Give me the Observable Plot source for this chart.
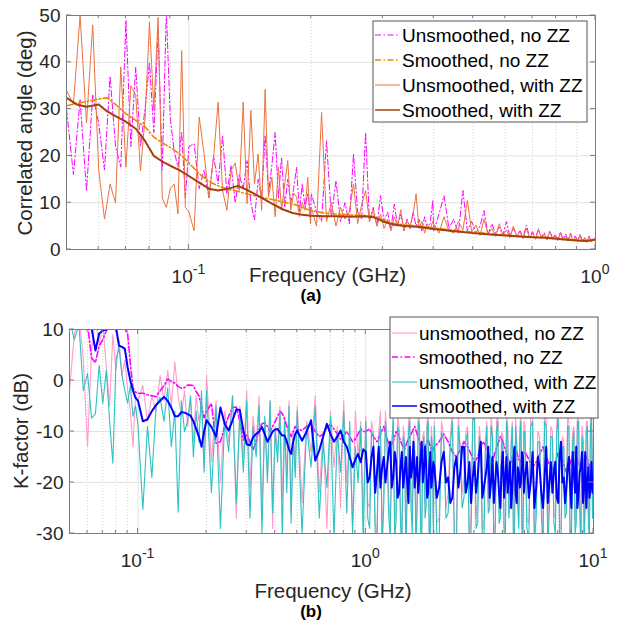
<!DOCTYPE html>
<html><head><meta charset="utf-8">
<script src="https://cdn.jsdelivr.net/npm/d3@7"></script>
<script src="https://cdn.jsdelivr.net/npm/@observablehq/plot@0.6"></script>
<style>
html,body{margin:0;padding:0;background:#fff;}
#chart{width:624px;height:622px;overflow:hidden;}
#chart svg{display:block;}
</style></head><body><div id="chart"></div>
<script>
// ---------- Panel (a): correlated angle ----------
const freqA_MHz = [
 50,52,54,56,58,60,62,64,66,68,70,72,74,76,78,80,82,84,86,88,90,92,94,96,98,
 100,103,106,109,112,115,118,121,124,127,130,133,136,139,142,145,148,151,154,157,160,163,166,169,172,175,178,181,184,187,190,193,196,199,
 200,206,212,218,224,230,236,242,248,254,260,266,272,278,284,290,296,302,308,314,320,326,332,338,344,350,356,362,368,374,380,386,392,398,
 400,412,424,436,448,460,472,484,496,508,520,532,544,556,568,580,592,604,616,628,640,652,664,676,688,700,712,724,736,748,760,772,784,796,808,820,832,844,856,868,880,892,904,916,928,940,952,964,976,988,1000
];
const unsmoothedNoZZ_A = [
 30,16,32,12.5,33,27,17,37,22,17.6,49,22,39,22,30,40,25,47,17,51,28,21,17.6,25,11,
 22,22.6,13,17,11,20,14,24.3,12,18,10,16,13,19,10,6.3,15,11,24.4,12,18,25,11,19.7,9,15,10,13,17.6,8,14,9,12,7,
 12,8,6,23.3,7,14.7,6,10,5.5,20.4,8,6.5,25,6,9,5,11.5,6,8,4.5,9.7,5,7.5,4,6.5,4.5,8,5,6.5,4,7,4.5,5.5,10.5,
 4,7.5,11.5,4.5,6.5,3.5,12.6,4,6,3.5,5,8.3,3.2,5.5,3.4,4.8,3,6,2.8,4.5,3.2,4,2.6,5.2,2.7,3.8,2.5,4.4,2.6,3.6,2.3,4,2.4,3.2,2.2,3.8,2.2,3.3,2,3.5,2,2.9,1.9,3.2,1.8,2.6,1.8,2.9,1.7,2.4,2.2
];
const unsmoothedWithZZ_A = [
 34,31,50,27,48,17,6.5,14,10,39,17.6,35,33,16.8,28,48.6,30,49.6,11,9,13,14,7.6,42.5,9,
 8,4,28.3,20.4,11.2,19.7,31.5,12.6,8.4,16.9,18.5,12.6,31.5,9.8,29.7,14,20.4,8.4,34.2,11.2,15.4,7,17.6,8.4,14,19,8.4,12,11.2,7,10,8.4,15.4,5.5,
 9,5,29.3,6,10,5,9,6.5,8,14,5.5,9.5,12.6,6,8.5,5,7.5,4.5,6.5,4,7,5,8.5,4,6,5,7.5,11.9,4.5,6,3.5,5.5,4.2,6,
 5.5,3.5,7,4,3.5,6,4.2,10.5,3.8,5.2,3,6.5,3.2,4.5,2.8,5.5,3,4.2,2.5,5,2.8,3.8,2.3,4.6,2.5,3.5,2.2,4.2,2.4,3.3,2,3.8,2.2,3,1.9,3.5,2,2.8,1.8,3.2,1.9,2.6,1.7,3,1.6,2.4,1.5,2.8,1.6,2.2,2.6
];
const smoothFreqA_MHz = [50,53,56,60,63,66,70,74,78,82,86,90,95,100,106,112,118,125,132,140,150,160,170,180,190,200,215,230,250,270,285,300,320,340,370,400,450,500,550,600,650,700,750,800,850,900,950,1000];
const smoothedNoZZ_A = [30.7,31.2,31.6,32.2,32.4,31,29,27.6,26.2,24,22.8,21.8,20.4,18.5,16.2,14.5,13.6,12.9,12.4,11.8,11.2,10.7,10.2,9.7,9,8.3,7.8,7.6,7.4,7.3,7.1,6.3,5.6,5.2,5,4.6,4.1,3.7,3.4,3.1,2.9,2.7,2.6,2.4,2.2,2,1.9,2.2];
const smoothedWithZZ_A = [32.4,31,30.5,31,29.5,28.5,27.3,25.8,23.2,20,18.8,17.9,16.9,15.7,14.3,13,12.6,13,13.6,12.6,11.2,9.8,8.6,7.8,7.4,7.2,7.1,7.1,7,7.1,6.9,6,5.3,5,4.8,4.4,3.9,3.5,3.2,3,2.8,2.6,2.5,2.3,2.1,1.9,1.8,2.1];
const yTicksA = [0,10,20,30,40,50];
const labelsA = ["Unsmoothed, no ZZ","Smoothed, no ZZ","Unsmoothed, with ZZ","Smoothed, with ZZ"];

// ---------- Panel (b): K-factor ----------
const freqB_MHz = [
 50,52.5,55,57.5,60,62.5,65,67.5,70,72.5,75,77.5,80,82.5,85,87.5,90,92.5,95,97.5,
 100,105,110,115,120,125,130,135,140,145,150,155,160,165,170,175,180,185,190,195,
 200,210,220,230,240,250,260,270,280,290,300,310,320,330,340,350,360,370,380,390,400,410,420,430,440,450,460,470,480,490,
 500,525,550,575,600,625,650,675,700,725,750,775,800,825,850,875,900,925,950,975,
 1000,1040,1080,1120,1160,1200,1240,1280,1320,1360,1400,1440,1480,1520,1560,1600,1640,1680,1720,1760,1800,1840,1880,1920,1960,
 2000,2100,2200,2300,2400,2500,2600,2700,2800,2900,3000,3100,3200,3300,3400,3500,3600,3700,3800,3900,4000,4100,4200,4300,4400,4500,4600,4700,4800,4900,
 5000,5200,5400,5600,5800,6000,6200,6400,6600,6800,7000,7200,7400,7600,7800,8000,8200,8400,8600,8800,9000,9200,9400,9600,9800,10000
];
const unsmoothedNoZZ_B = [
 -2,9,13,4,-13,6,12,7,11,3,-5,9,2,8,1,4,-2,-6,-13,-3,
 -4,-1,-8,-3,-6,1,-4,2,-5,3.6,-3,-7,-2,-9,-4,-12,-3,-8,-5,-17,
 1,-16,-4,-20,-6,-12,-3,-27,-5,-15,-2,-21,-7,-13,-3,-25,-8,-18,-4,-29,-9,-14,-5,-23,-7,-19,-4,-26,-10,-16,
 -5,-24,-8,-14,-3,-22,-10,-29,-6,-17,-9,-25,-4,-20,-11,-28,-6,-15,-8,-26,
 -7,-25,-10,-30,-6,-21,-12,-28,-8,-23,-9,-31,-11,-19,-7,-27,-13,-22,-8,-29,-10,-20,-6,-28,-12,
 -8,-27,-11,-22,-6,-30,-13,-19,-9,-26,-5,-24,-12,-29,-8,-21,-10,-28,-7,-23,-11,-31,-9,-20,-8,-27,-12,-25,-6,-29,
 -9,-28,-6,-23,-11,-30,-8,-21,-10,-27,-5,-29,-12,-22,-8,-28,-9,-24,-6,-31,-11,-20,-8,-27,-5,-9
];
const smoothedNoZZ_B = [
 15,14,14,13,11,4.4,3.5,6.8,8,9.7,10.5,11,11.5,12,11,10,9.2,3.3,-1.5,-2.3,
 -2.5,-2.5,-2.8,-3,-3.2,-2,-1,0.3,-0.2,-0.5,-1.2,-1.5,-1.4,-0.9,-0.9,-1,-2.2,-3,-5.1,-7.3,
 -6,-4.5,-12.3,-12,-9.1,-7,-5.3,-5.2,-8,-11.7,-10.5,-12,-13.6,-12,-9.5,-8.5,-8.3,-9,-10,-9,-8,-7,-6,-6.5,-7.5,-9,-10,-11,-10,-9,
 -9.5,-9.8,-9,-8.5,-10,-11,-10.5,-9.2,-8.6,-9.5,-10.5,-11.5,-10.8,-10,-11,-12,-11.5,-10.5,-9.5,-10,
 -10,-9.5,-11,-12,-10.5,-9,-11.5,-13,-12,-10,-11,-12.5,-13.5,-12,-11,-10,-9,-10.5,-12,-13,-14,-12.5,-11.5,-13,-14,
 -13,-12,-10.5,-12,-14,-15,-13.5,-12,-13,-14.5,-16,-15,-13,-12,-13.5,-15,-16,-14,-12.5,-11,-12,-13.5,-15,-16.5,-15,-13,-14,-15.5,-16,-14.5,
 -14,-15.5,-17,-16,-14.5,-13,-15,-16.5,-17.5,-16,-14,-15,-16.5,-18,-17,-15.5,-14,-15,-16,-17.5,-16,-14.5,-15.5,-17,-16,-15
];
const unsmoothedWithZZ_B = [
 12,8,11,-2,1.4,-7.4,-6.5,3,-4.5,2,-8,-16.2,4,6.5,1,-2,-4.4,-1,-7,-5,
 -9,-25.3,-9,-19,-5,-3.3,-8,-1.5,-13,-6,-25.8,-4,-10,-8,-3,-15,-6,-12,-2,-18,
 -2,-22,-5,-29,-8,-14,-3,-24,-6,-18,-4,-27,-9,-15,-5,-30,-7,-20,-4,-26,-10,-16,-6,-31,-8,-22,-5,-28,-11,-19,
 -6,-30,-9,-17,-5,-27,-12,-21,-7,-31,-10,-18,-6,-26,-8,-30,-13,-20,-9,-32,
 -8,-29,-11,-32,-9,-24,-13,-31,-7,-27,-10,-33,-12,-22,-8,-30,-14,-26,-9,-32,-11,-25,-8,-31,-13,
 -9,-31,-12,-26,-8,-33,-14,-23,-10,-30,-7,-28,-13,-32,-9,-25,-11,-31,-8,-27,-12,-33,-10,-24,-9,-30,-13,-29,-8,-32,
 -10,-31,-8,-27,-12,-33,-9,-25,-11,-30,-7,-32,-13,-26,-9,-31,-10,-28,-8,-33,-12,-24,-9,-30,-7,-11
];
const smoothedWithZZ_B = [
 15,14,13.5,12.5,11.5,10.3,5.9,9.2,9.8,10,10.5,11.5,10.5,6.8,6.6,6.2,2.6,0,-2,-3.4,
 -4,-8,-7.6,-6,-4.8,-4,-3.2,-4,-5.3,-7,-7,-6.2,-6.3,-6.6,-6.9,-8,-9.5,-11,-13,-10,
 -7.8,-9.1,-11,-5.3,-8.5,-9.8,-7.8,-5.7,-5.8,-9.8,-12.5,-12.7,-11.1,-10.5,-10,-9.1,-10.5,-12,-11,-10,-9.6,-9.5,-10.2,-10.8,-10.8,-12,-13.5,-14.4,-12,-10.5,
 -9.8,-11.8,-10,-7.8,-15.7,-13.7,-11,-8.5,-10.5,-12,-11,-9.8,-12,-13,-15,-17,-15.5,-14.4,-16,-13.5,
 -14,-19,-13,-18,-21,-15,-17,-12,-19,-16,-22,-14,-18,-20,-13,-17,-21,-15,-19,-12,-18,-16,-22,-14,-19,
 -17,-21,-14,-19,-23,-15,-18,-13,-20,-24,-16,-19,-12,-21,-17,-23,-15,-20,-18,-25,-14,-19,-22,-16,-21,-13,-24,-18,-20,-15,
 -19,-23,-14,-21,-17,-25,-13,-20,-22,-16,-24,-12,-19,-21,-15,-25,-18,-13,-22,-17,-24,-14,-20,-23,-16,-19
];
// extra in-between samples (1-10 GHz) for the unsmoothed series and the smoothed-with-ZZ series
const freqB_extra_MHz = [
 1020,1060,1100,1140,1180,1220,1260,1300,1340,1380,1420,1460,1500,1540,1580,1620,1660,1700,1740,1780,1820,1860,1900,1940,1980,
 2050,2150,2250,2350,2450,2550,2650,2750,2850,2950,3050,3150,3250,3350,3450,3550,3650,3750,3850,3950,4050,4150,4250,4350,4450,4550,4650,4750,4850,4950,
 5100,5300,5500,5700,5900,6100,6300,6500,6700,6900,7100,7300,7500,7700,7900,8100,8300,8500,8700,8900,9100,9300,9500,9700,9900
];
const unsmoothedNoZZ_B_extra = [
 -24,-8,-28,-10,-31,-6,-23,-12,-29,-7,-25,-9,-32,-8,-22,-10,-30,-6,-27,-11,-24,-7,-31,-9,-28,
 -28,-8,-25,-11,-30,-7,-22,-10,-32,-6,-27,-9,-29,-12,-24,-7,-31,-8,-26,-10,-28,-6,-25,-11,-30,-7,-23,-9,-29,-8,
 -27,-7,-30,-10,-24,-6,-31,-9,-26,-8,-29,-11,-25,-7,-32,-10,-28,-6,-24,-9,-30,-8,-27,-7,-25
];
const unsmoothedWithZZ_B_extra = [
 -27,-10,-30,-12,-33,-8,-26,-14,-31,-9,-28,-11,-34,-10,-25,-12,-32,-8,-29,-13,-27,-9,-33,-11,-30,
 -30,-10,-27,-13,-32,-9,-25,-12,-34,-8,-29,-11,-31,-14,-26,-9,-33,-10,-28,-12,-30,-8,-27,-13,-32,-9,-25,-11,-31,-10,
 -29,-9,-32,-12,-26,-8,-33,-11,-28,-10,-31,-13,-27,-9,-34,-12,-30,-8,-26,-11,-32,-10,-29,-9,-27
];
const smoothedWithZZ_B_extra = [
 -20,-15,-22,-13,-17,-20,-14,-21,-14,-23,-17,-21,-15,-24,-19,-12,-18,-22,-15,-20,-13,-23,-17,-21,-16,
 -23,-16,-20,-24,-17,-21,-13,-22,-16,-19,-22,-14,-23,-19,-13,-20,-24,-16,-22,-17,-23,-15,-19,-25,-16,-22,-17,-21,-14,-22,
 -16,-20,-25,-15,-22,-19,-24,-16,-18,-23,-15,-20,-24,-17,-21,-14,-22,-25,-18,-14,-21,-25,-17,-21,-22
];
const yTicksB = [-30,-20,-10,0,10];
const labelsB = ["unsmoothed, no ZZ","smoothed, no ZZ","unsmoothed, with ZZ","smoothed, with ZZ"];

// axis tick positions (GHz)
const majorTicksA = [0.1, 1];
const minorTicksA = [0.06,0.07,0.08,0.09,0.2,0.3,0.4,0.5,0.6,0.7,0.8,0.9];
const majorTicksB = [0.1, 1, 10];
const minorTicksB = [0.06,0.07,0.08,0.09,0.2,0.3,0.4,0.5,0.6,0.7,0.8,0.9,2,3,4,5,6,7,8,9];
const majorExponent = {0.1: "-1", 1: "0", 10: "1"};

// ---------- build ----------
const FONT = "'Liberation Sans', Arial, Helvetica, sans-serif";
const table = (fs, vs) => fs.map((f, i) => ({f: f / 1000, v: vs[i]}));
const merged = (fs, vs, fe, ve) => table(fs, vs).concat(table(fe, ve)).sort((a, b) => a.f - b.f);

function panel(cfg) {
  const marks = [
    Plot.ruleX(cfg.minor, {stroke: "#d0d0d0", strokeDasharray: "1,2"}),
    Plot.ruleX(cfg.major, {stroke: "#e2e2e2"}),
    Plot.ruleY(cfg.yTicks, {stroke: "#e2e2e2"}),
    Plot.axisY(cfg.yTicks, {tickSize: 0, tickPadding: 6, fontSize: 19, label: null, tickFormat: d => String(d)}),
    ...cfg.draw.map(s => Plot.line(s.data, {x: "f", y: "v", stroke: s.color, strokeWidth: s.width,
      strokeDasharray: s.dash, strokeLinejoin: "round", clip: true})),
    Plot.frame({stroke: "#7c7c7c"})
  ];
  const chart = Plot.plot({
    width: 624, height: cfg.height,
    marginTop: cfg.mt, marginBottom: cfg.mb, marginLeft: cfg.ml, marginRight: cfg.mr,
    x: {type: "log", domain: cfg.xDomain, axis: null},
    y: {domain: cfg.yDomain},
    style: {fontFamily: FONT, background: "#fff", color: "#262626", overflow: "visible"},
    marks
  });
  const svg = d3.select(chart);
  const sx = chart.scale("x"), sy = chart.scale("y");
  const L = cfg.ml, R = 624 - cfg.mr, T = cfg.mt, B = cfg.height - cfg.mb;
  const g = svg.append("g").attr("stroke", "#7c7c7c").attr("stroke-width", 1);
  cfg.yTicks.forEach(v => {
    const y = sy.apply(v);
    g.append("line").attr("x1", L).attr("x2", L + 5).attr("y1", y).attr("y2", y);
    g.append("line").attr("x1", R - 5).attr("x2", R).attr("y1", y).attr("y2", y);
  });
  const xt = (vals, len) => vals.forEach(v => {
    const x = sx.apply(v);
    g.append("line").attr("x1", x).attr("x2", x).attr("y1", B).attr("y2", B - len);
    g.append("line").attr("x1", x).attr("x2", x).attr("y1", T).attr("y2", T + len);
  });
  xt(cfg.major, 5); xt(cfg.minor, 3);
  const txt = svg.append("g").attr("fill", "#262626").attr("font-family", FONT);
  cfg.major.forEach(v => {
    const t = txt.append("text").attr("x", sx.apply(v)).attr("y", cfg.tickY)
      .attr("text-anchor", "middle").attr("font-size", 19);
    t.append("tspan").text("10");
    t.append("tspan").attr("font-size", 14).attr("dy", -9).text(majorExponent[v]);
  });
  txt.append("text").attr("x", cfg.xLabel[0]).attr("y", cfg.xLabel[1]).attr("text-anchor", "middle")
    .attr("font-size", 20.5).text("Frequency (GHz)");
  txt.append("text").attr("x", cfg.tag[0]).attr("y", cfg.tag[1]).attr("text-anchor", "middle")
    .attr("font-size", 17).attr("font-weight", "bold").attr("fill", "#000").text(cfg.tagText);
  txt.append("text").attr("transform", `translate(${cfg.yLabel[0]},${cfg.yLabel[1]}) rotate(-90)`)
    .attr("text-anchor", "middle").attr("font-size", 20.5).text(cfg.yLabelText);
  // legend (in legend order)
  const lg = cfg.legend;
  const leg = svg.append("g");
  leg.append("rect").attr("x", lg.x).attr("y", lg.y).attr("width", lg.w).attr("height", lg.h)
    .attr("fill", "#fff").attr("stroke", "#555").attr("stroke-width", 1);
  cfg.series.forEach((s, i) => {
    const y = lg.rows[i];
    leg.append("line").attr("x1", lg.lx0).attr("x2", lg.lx1).attr("y1", y).attr("y2", y)
      .attr("stroke", s.color).attr("stroke-width", Math.min(s.width, 1.5))
      .attr("stroke-dasharray", s.dash || null);
    leg.append("text").attr("x", lg.tx).attr("y", y + 7).attr("font-size", 19)
      .attr("text-anchor", "start").attr("font-family", FONT).attr("fill", "#000").text(s.label);
  });
  return chart;
}

const DASHDOT = "6,2.5,1.5,2.5";
const seriesA = [
  {label: labelsA[0], data: table(freqA_MHz, unsmoothedNoZZ_A), color: "#ff00ff", width: 1, dash: DASHDOT},
  {label: labelsA[1], data: table(smoothFreqA_MHz, smoothedNoZZ_A), color: "#e88a00", width: 1.6, dash: DASHDOT},
  {label: labelsA[2], data: table(freqA_MHz, unsmoothedWithZZ_A), color: "#ea7440", width: 1},
  {label: labelsA[3], data: table(smoothFreqA_MHz, smoothedWithZZ_A), color: "#a4400c", width: 2}
];
const seriesB = [
  {label: labelsB[0], data: merged(freqB_MHz, unsmoothedNoZZ_B, freqB_extra_MHz, unsmoothedNoZZ_B_extra), color: "#ff9ccb", width: 1.1},
  {label: labelsB[1], data: table(freqB_MHz, smoothedNoZZ_B), color: "#ff00ff", width: 1.6, dash: DASHDOT},
  {label: labelsB[2], data: merged(freqB_MHz, unsmoothedWithZZ_B, freqB_extra_MHz, unsmoothedWithZZ_B_extra), color: "#2ec2c2", width: 1.1},
  {label: labelsB[3], data: merged(freqB_MHz, smoothedWithZZ_B, freqB_extra_MHz, smoothedWithZZ_B_extra), color: "#0000ff", width: 2}
];

const chartA = panel({
  height: 305, mt: 15, mb: 56, ml: 66, mr: 29,
  xDomain: [0.05, 1], yDomain: [0, 50], yTicks: yTicksA,
  major: majorTicksA, minor: minorTicksA,
  series: seriesA, draw: [seriesA[0], seriesA[2], seriesA[1], seriesA[3]],
  tickY: 283, xLabel: [327.5, 282], tag: [311, 301], tagText: "(a)",
  yLabel: [32, 133], yLabelText: "Correlated angle (deg)",
  legend: {x: 373, y: 21, w: 214, h: 101, rows: [35, 60, 85, 110], lx0: 375, lx1: 400, tx: 402}
});
const chartB = panel({
  height: 317, mt: 24, mb: 89, ml: 69, mr: 31,
  xDomain: [0.05, 10], yDomain: [-30, 10], yTicks: yTicksB,
  major: majorTicksB, minor: minorTicksB,
  series: seriesB, draw: seriesB,
  tickY: 262, xLabel: [333, 293], tag: [311, 312], tagText: "(b)",
  yLabel: [28, 126], yLabelText: "K-factor (dB)",
  legend: {x: 390, y: 12, w: 208, h: 101, rows: [28, 52, 77, 101], lx0: 392, lx1: 417, tx: 419}
});
const root = document.getElementById("chart");
root.appendChild(chartA);
root.appendChild(chartB);
</script></body></html>
